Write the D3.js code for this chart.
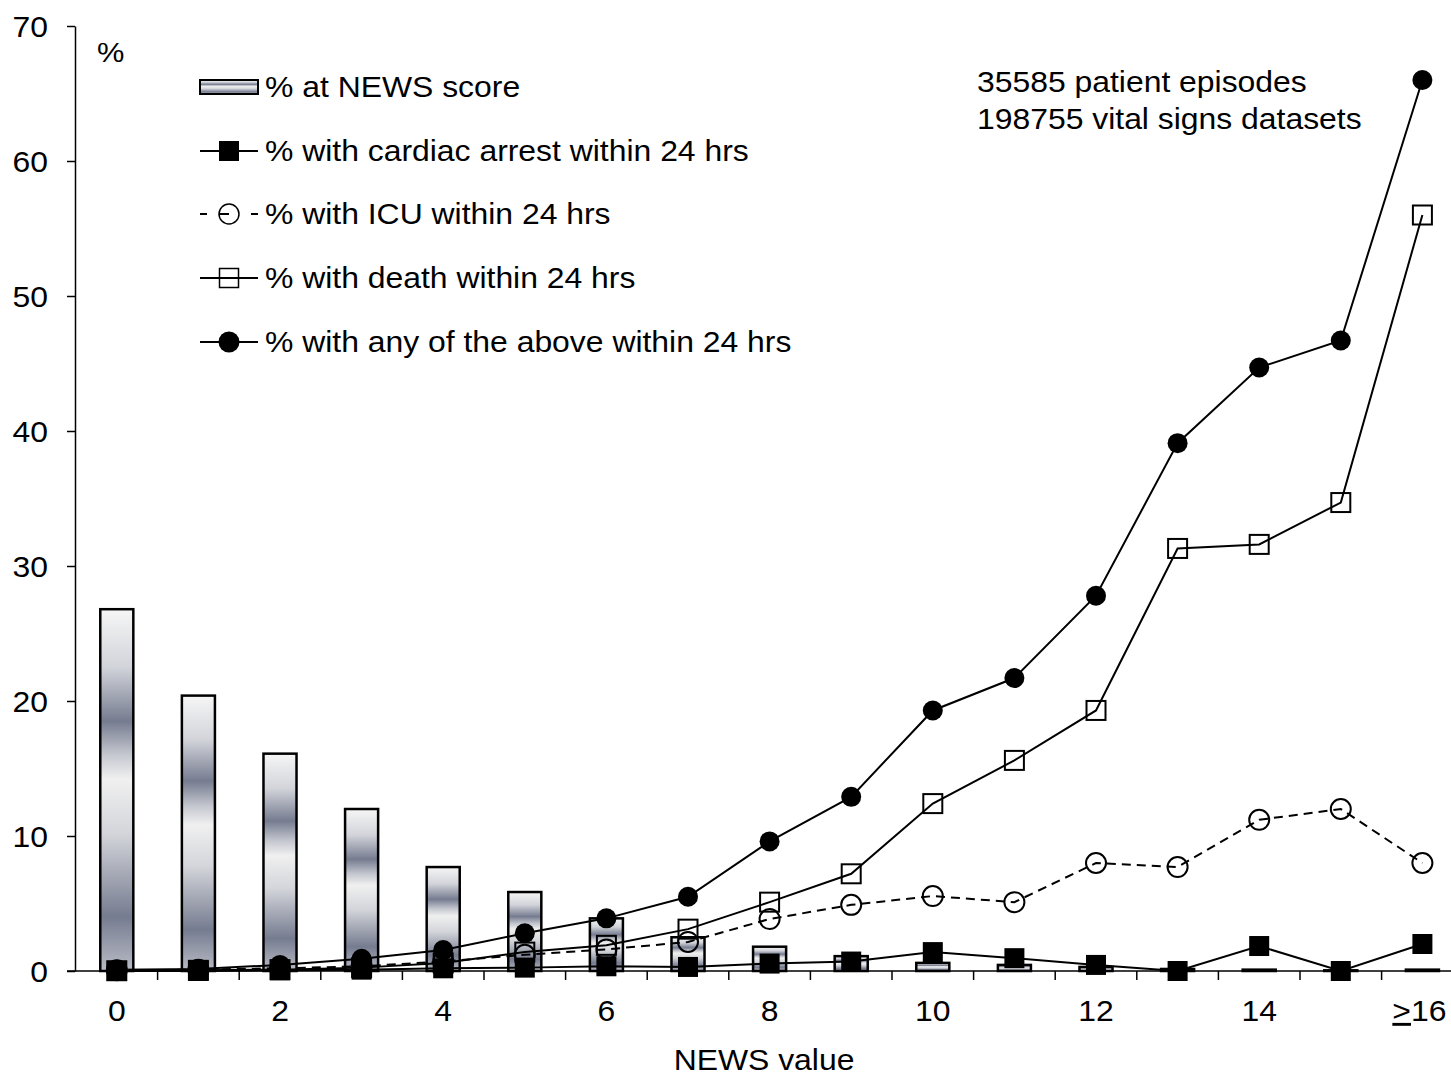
<!DOCTYPE html>
<html>
<head>
<meta charset="utf-8">
<script src="https://cdn.jsdelivr.net/npm/d3@7"></script>
<style>
  html, body { margin: 0; padding: 0; background: #fff; }
  svg { display: block; font-family: "Liberation Sans", Arial, sans-serif; }
</style>
</head>
<body>
<svg id="chart" width="1451" height="1077"></svg>
<script>
// ---- data ----
const categories = [0,1,2,3,4,5,6,7,8,9,10,11,12,13,14,15,16];
const tickLabels = {0:"0",2:"2",4:"4",6:"6",8:"8",10:"10",12:"12",14:"14",16:"16"};
const pctAtScore = [26.8,20.4,16.1,12.0,7.7,5.85,3.9,2.5,1.8,1.1,0.6,0.45,0.3,0.15,0.1,0.05,0.1];
const cardiacArrest = [0.0,0.0,0.05,0.1,0.2,0.25,0.35,0.3,0.55,0.7,1.4,0.95,0.45,0.0,1.85,0.0,2.0];
const icu = [0.05,0.1,0.2,0.35,0.7,1.2,1.6,2.15,3.85,4.9,5.55,5.1,8.0,7.7,11.2,12.0,8.0];
const death = [0.02,0.05,0.1,0.25,0.6,1.4,1.9,3.1,5.1,7.2,12.4,15.6,19.3,31.3,31.6,34.7,56.0];
const anyEvent = [0.1,0.15,0.45,0.9,1.55,2.8,3.9,5.5,9.6,12.9,19.3,21.7,27.8,39.1,44.7,46.7,66.0];
const yTicks = [0,10,20,30,40,50,60,70];
const legendLabels = [
  "% at NEWS score",
  "% with cardiac arrest within 24 hrs",
  "% with ICU within 24 hrs",
  "% with death within 24 hrs",
  "% with any of the above within 24 hrs"
];
const noteLines = ["35585 patient episodes", "198755 vital signs datasets"];
const xTitle = "NEWS value";
const yUnit = "%";

// ---- setup ----
const svg = d3.select("#chart");
const FS = 29, SX = 1.1;

const x = d3.scaleBand().domain(categories).range([76, 76 + 17 * 81.6]).padding(0);
const y = d3.scaleLinear().domain([0, 70]).range([971, 26]);
const cx = d => x(d) + x.bandwidth() / 2;

function addText(parent, tx, ty, str, anchor, size) {
  const g = parent.append("g").attr("transform", `translate(${tx},${ty}) scale(${SX},1)`);
  return g.append("text").attr("text-anchor", anchor || "start")
    .attr("font-size", size || FS).attr("fill", "#000").text(str);
}

// gradient for bars
const defs = svg.append("defs");
const grad = defs.append("linearGradient").attr("id", "barGrad")
  .attr("x1", 0).attr("y1", 0).attr("x2", 0).attr("y2", 1);
[[0, "#f6f6f6"], [0.16, "#d2d4da"], [0.31, "#767c90"], [0.40, "#c3c6ce"], [0.47, "#f0f0f0"],
 [0.62, "#d3d5da"], [0.85, "#767c90"], [1, "#b9bcc6"]]
  .forEach(([o, c]) => grad.append("stop").attr("offset", o).attr("stop-color", c));

// ---- bars ----
const bw = x.bandwidth() * 0.405;
svg.append("g").selectAll("rect").data(categories).join("rect")
  .attr("x", d => cx(d) - bw / 2)
  .attr("y", (d, i) => y(pctAtScore[i]))
  .attr("width", bw)
  .attr("height", (d, i) => y(0) - y(pctAtScore[i]))
  .attr("fill", "url(#barGrad)")
  .attr("stroke", "#000").attr("stroke-width", 2.5);

// ---- axes ----
const yAxis = d3.axisLeft(y).tickValues(yTicks).tickSize(8).tickSizeOuter(0).tickFormat("");
const yg = svg.append("g").attr("transform", "translate(75,0)").call(yAxis);
yg.selectAll("path, line").attr("stroke", "#000").attr("stroke-width", 1.5);
yTicks.forEach(t => addText(svg, 48, y(t) + 10.5, String(t), "end"));
addText(svg, 97, 62, yUnit, "start", 28);

// x axis line and boundary ticks
svg.append("line").attr("x1", 67).attr("x2", 1451).attr("y1", y(0)).attr("y2", y(0))
  .attr("stroke", "#000").attr("stroke-width", 1.5);
svg.append("g").selectAll("line").data(categories.slice(1)).join("line")
  .attr("x1", d => x(d)).attr("x2", d => x(d))
  .attr("y1", y(0)).attr("y2", y(0) + 9)
  .attr("stroke", "#000").attr("stroke-width", 1.5);
categories.forEach(c => {
  if (tickLabels[c] === undefined) return;
  if (c === 16) {
    const t = addText(svg, cx(c) - 3, 1021, "", "middle");
    t.append("tspan").attr("text-decoration", "underline").text(">");
    t.append("tspan").text(tickLabels[c]);
  } else {
    addText(svg, cx(c), 1021, tickLabels[c], "middle");
  }
});
addText(svg, 764, 1070, xTitle, "middle");

// ---- lines ----
const lineGen = arr => d3.line().x((d, i) => cx(categories[i])).y(d => y(d))(arr);

// ICU dashed
svg.append("path").attr("d", lineGen(icu)).attr("fill", "none")
  .attr("stroke", "#000").attr("stroke-width", 2).attr("stroke-dasharray", "9,6");
svg.append("g").selectAll("circle").data(icu).join("circle")
  .attr("cx", (d, i) => cx(categories[i])).attr("cy", d => y(d)).attr("r", 10)
  .attr("fill", "none").attr("stroke", "#000").attr("stroke-width", 2);

// death open squares
svg.append("path").attr("d", lineGen(death)).attr("fill", "none")
  .attr("stroke", "#000").attr("stroke-width", 2);
svg.append("g").selectAll("rect").data(death).join("rect")
  .attr("x", (d, i) => cx(categories[i]) - 9.5).attr("y", d => y(d) - 9.5)
  .attr("width", 19).attr("height", 19)
  .attr("fill", "none").attr("stroke", "#000").attr("stroke-width", 2);

// any filled circles
svg.append("path").attr("d", lineGen(anyEvent)).attr("fill", "none")
  .attr("stroke", "#000").attr("stroke-width", 2);
svg.append("g").selectAll("circle").data(anyEvent).join("circle")
  .attr("cx", (d, i) => cx(categories[i])).attr("cy", d => y(d)).attr("r", 10)
  .attr("fill", "#000");

// cardiac filled squares
svg.append("path").attr("d", lineGen(cardiacArrest)).attr("fill", "none")
  .attr("stroke", "#000").attr("stroke-width", 2);
svg.append("g").selectAll("rect").data(cardiacArrest).join("rect")
  .attr("x", (d, i) => cx(categories[i]) - 10).attr("y", d => y(d) - 10)
  .attr("width", 20).attr("height", 20).attr("fill", "#000");

// ---- legend ----
const lg = svg.append("g");
const rowY = [87, 151, 214, 278, 342];
const lx0 = 200, lx1 = 258, lm = 229;
// bar swatch
lg.append("rect").attr("x", lx0).attr("y", rowY[0] - 7).attr("width", lx1 - lx0).attr("height", 14)
  .attr("fill", "url(#barGrad)").attr("stroke", "#000").attr("stroke-width", 2);
// cardiac
lg.append("line").attr("x1", lx0).attr("x2", lx1).attr("y1", rowY[1]).attr("y2", rowY[1])
  .attr("stroke", "#000").attr("stroke-width", 2);
lg.append("rect").attr("x", lm - 10).attr("y", rowY[1] - 10).attr("width", 20).attr("height", 20).attr("fill", "#000");
// ICU
[[lx0, lx0 + 7], [lm - 10, lm], [lx1 - 7, lx1]].forEach(([a, b]) =>
  lg.append("line").attr("x1", a).attr("x2", b).attr("y1", rowY[2]).attr("y2", rowY[2])
    .attr("stroke", "#000").attr("stroke-width", 2));
lg.append("circle").attr("cx", lm).attr("cy", rowY[2]).attr("r", 10)
  .attr("fill", "none").attr("stroke", "#000").attr("stroke-width", 1.5);
// death
lg.append("line").attr("x1", lx0).attr("x2", lx1).attr("y1", rowY[3]).attr("y2", rowY[3])
  .attr("stroke", "#000").attr("stroke-width", 2);
lg.append("rect").attr("x", lm - 9.5).attr("y", rowY[3] - 9.5).attr("width", 19).attr("height", 19)
  .attr("fill", "none").attr("stroke", "#000").attr("stroke-width", 1.5);
// any
lg.append("line").attr("x1", lx0).attr("x2", lx1).attr("y1", rowY[4]).attr("y2", rowY[4])
  .attr("stroke", "#000").attr("stroke-width", 2);
lg.append("circle").attr("cx", lm).attr("cy", rowY[4]).attr("r", 10.5).attr("fill", "#000");

legendLabels.forEach((s, i) => addText(lg, 265, rowY[i] + 10, s, "start"));

// ---- note ----
addText(svg, 977, 92, noteLines[0], "start");
addText(svg, 977, 129, noteLines[1], "start");
</script>
</body>
</html>
